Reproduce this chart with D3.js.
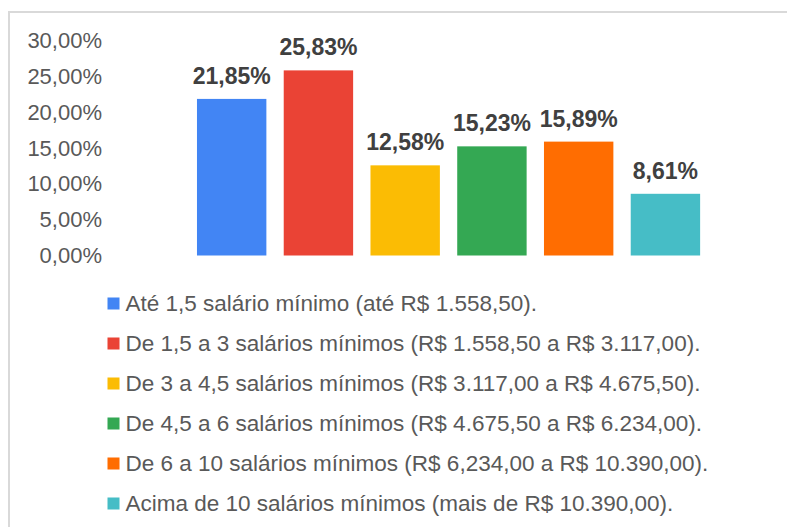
<!DOCTYPE html>
<html>
<head>
<meta charset="utf-8">
<script src="https://cdn.jsdelivr.net/npm/d3@7"></script>
<style>
  body { margin: 0; background: #fff; }
  svg { display: block; font-family: "Liberation Sans", Arial, sans-serif; }
</style>
</head>
<body>
<div id="chart"></div>
<script>
const categories = [
  "Até 1,5 salário mínimo (até R$ 1.558,50).",
  "De 1,5 a 3 salários mínimos (R$ 1.558,50 a R$ 3.117,00).",
  "De 3 a 4,5 salários mínimos (R$ 3.117,00 a R$ 4.675,50).",
  "De 4,5 a 6 salários mínimos (R$ 4.675,50 a R$ 6.234,00).",
  "De 6 a 10 salários mínimos (R$ 6,234,00 a R$ 10.390,00).",
  "Acima de 10 salários mínimos (mais de R$ 10.390,00)."
];
const values = [21.85, 25.83, 12.58, 15.23, 15.89, 8.61];
const colors = ["#4285f4", "#ea4335", "#fbbc04", "#34a853", "#ff6d01", "#46bdc6"];
const yTicks = [0, 5, 10, 15, 20, 25, 30];

const width = 787, height = 527;
const fmt = (d) => d.toFixed(2).replace(".", ",") + "%";

const svg = d3
  .select("#chart")
  .append("svg")
  .attr("width", width)
  .attr("height", height);

// outer frame (cropped on right and bottom)
svg
  .append("rect")
  .attr("x", 9)
  .attr("y", 12)
  .attr("width", 800)
  .attr("height", 540)
  .attr("fill", "none")
  .attr("stroke", "#d9d9d9")
  .attr("stroke-width", 2);

const x = d3
  .scaleBand()
  .domain(d3.range(values.length))
  .range([188.3, 708.8])
  .paddingInner(0.2)
  .paddingOuter(0.1);

const y = d3.scaleLinear().domain([0, 30]).range([255.5, 40.5]);

// Y axis labels only
const yAxis = svg
  .append("g")
  .attr("transform", "translate(102,0)")
  .call(d3.axisLeft(y).tickValues(yTicks).tickFormat(fmt).tickSize(0).tickPadding(0));
yAxis.select(".domain").remove();
yAxis
  .selectAll("text")
  .attr("fill", "#595959")
  .style("font-size", "22px")
  .style("font-family", "Liberation Sans, Arial, sans-serif");

// Bars
svg
  .selectAll(".bar")
  .data(values)
  .join("rect")
  .attr("class", "bar")
  .attr("x", (d, i) => x(i))
  .attr("y", (d) => y(d))
  .attr("width", x.bandwidth())
  .attr("height", (d) => y(0) - y(d))
  .attr("fill", (d, i) => colors[i]);

// Value labels
svg
  .selectAll(".val")
  .data(values)
  .join("text")
  .attr("class", "val")
  .attr("x", (d, i) => x(i) + x.bandwidth() / 2)
  .attr("y", (d) => y(d) - 15)
  .attr("text-anchor", "middle")
  .attr("fill", "#404040")
  .style("font-size", "23px")
  .style("font-weight", "bold")
  .text(fmt);

// Legend
const legend = svg
  .selectAll(".leg")
  .data(categories)
  .join("g")
  .attr("class", "leg")
  .attr("transform", (d, i) => `translate(107.5,${303.5 + i * 40})`);

legend
  .append("rect")
  .attr("x", 0)
  .attr("y", -6)
  .attr("width", 12)
  .attr("height", 12)
  .attr("fill", (d, i) => colors[i]);

legend
  .append("text")
  .attr("x", 18)
  .attr("y", 0)
  .attr("dy", "0.35em")
  .attr("fill", "#595959")
  .style("font-size", "22.5px")
  .text((d) => d);
</script>
</body>
</html>
